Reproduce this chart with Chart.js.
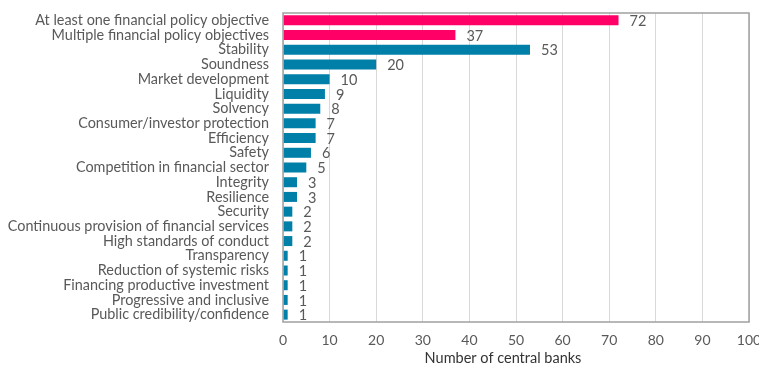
<!DOCTYPE html>
<html>
<head>
<meta charset="utf-8">
<script src="https://cdn.jsdelivr.net/npm/chart.js@4"></script>
<style>
  html, body { margin: 0; padding: 0; background: #fff; }
  #wrap { width: 759px; height: 366px; }
</style>
</head>
<body>
<div id="wrap"><canvas id="chart"></canvas></div>
<script>
/* Categories and values */
const categories = [
  "At least one financial policy objective",
  "Multiple financial policy objectives",
  "Stability",
  "Soundness",
  "Market development",
  "Liquidity",
  "Solvency",
  "Consumer/investor protection",
  "Efficiency",
  "Safety",
  "Competition in financial sector",
  "Integrity",
  "Resilience",
  "Security",
  "Continuous provision of financial services",
  "High standards of conduct",
  "Transparency",
  "Reduction of systemic risks",
  "Financing productive investment",
  "Progressive and inclusive",
  "Public credibility/confidence"
];
const bankCounts = [72, 37, 53, 20, 10, 9, 8, 7, 7, 6, 5, 3, 3, 2, 2, 2, 1, 1, 1, 1, 1];
const xTicks = [0, 10, 20, 30, 40, 50, 60, 70, 80, 90, 100];
const xTitle = "Number of central banks";

/* First two rows are the summary rows, in pink */
const barColors = bankCounts.map((v, i) => (i < 2 ? "#FF0066" : "#007FA8"));

const TEXT = "#595959";
const FONT = "Lato, 'Open Sans', sans-serif";

/* Value labels at the end of each bar */
const valueLabels = {
  id: "valueLabels",
  afterDatasetsDraw(chart) {
    const ctx = chart.ctx;
    const meta = chart.getDatasetMeta(0);
    ctx.save();
    ctx.fillStyle = TEXT;
    ctx.font = "14.5px " + FONT;
    ctx.textBaseline = "middle";
    meta.data.forEach((bar, i) => {
      ctx.fillText(String(bankCounts[i]), bar.x + 11, bar.y + 1);
    });
    ctx.restore();
  }
};

/* Box round the plot area, plus the axis title (sits a bit left of centre) */
const plotBox = {
  id: "plotBox",
  afterDraw(chart) {
    const a = chart.chartArea;
    const ctx = chart.ctx;
    ctx.save();
    ctx.strokeStyle = "#a0a0a0";
    ctx.lineWidth = 1.5;
    ctx.strokeRect(a.left, a.top, a.right - a.left, a.bottom - a.top);
    ctx.fillStyle = "#333";
    ctx.font = "14.5px " + FONT;
    ctx.textAlign = "center";
    ctx.textBaseline = "middle";
    ctx.fillText(xTitle, (a.left + a.right) / 2 - 13, a.bottom + 36);
    ctx.restore();
  }
};

new Chart(document.getElementById("chart"), {
  type: "bar",
  plugins: [valueLabels, plotBox],
  data: {
    labels: categories,
    datasets: [
      {
        data: bankCounts,
        backgroundColor: barColors,
        barPercentage: 0.68,
        categoryPercentage: 1
      }
    ]
  },
  options: {
    indexAxis: "y",
    responsive: true,
    maintainAspectRatio: false,
    animation: false,
    layout: { padding: { top: 13, right: 10, left: 0, bottom: 0 } },
    plugins: {
      legend: { display: false },
      tooltip: { enabled: false }
    },
    scales: {
      x: {
        min: 0,
        max: 100,
        afterBuildTicks: (s) => { s.ticks = xTicks.map((v) => ({ value: v })); },
        afterFit: (s) => { s.height = 44; s.paddingRight = 0; s.paddingLeft = 0; },
        grid: { color: "#d9d9d9", drawTicks: false },
        border: { display: false },
        ticks: { color: TEXT, font: { family: FONT, size: 14 }, padding: 10 }
      },
      y: {
        afterFit: (s) => { s.width = 283; s.paddingTop = 0; s.paddingBottom = 0; },
        grid: { display: false },
        border: { display: false },
        ticks: {
          color: TEXT,
          font: { family: FONT, size: 14.4 },
          padding: 6,
          autoSkip: false
        }
      }
    }
  }
});
</script>
</body>
</html>
